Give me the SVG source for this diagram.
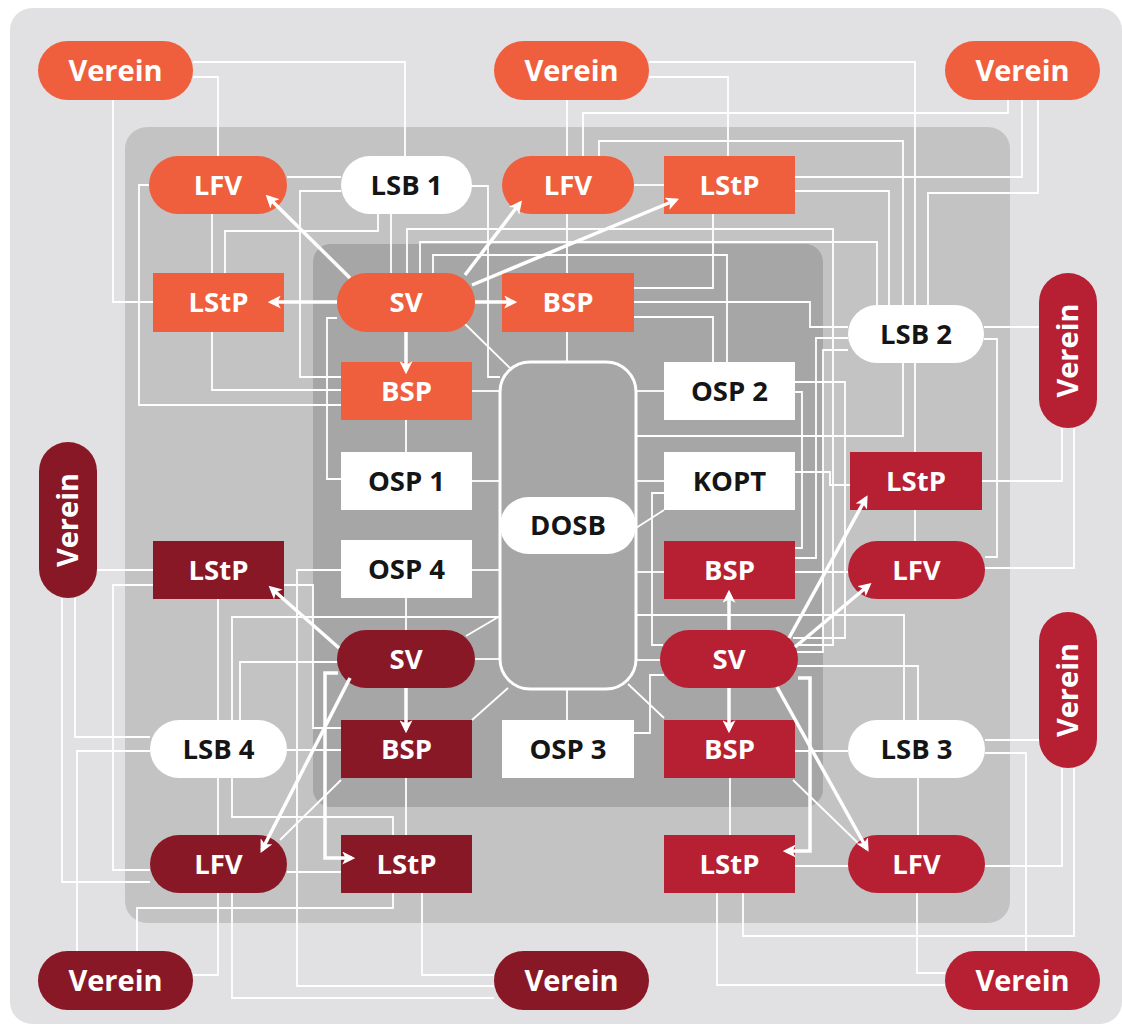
<svg xmlns="http://www.w3.org/2000/svg" width="1122" height="1028" viewBox="0 0 1122 1028">
<defs>
<style>
.ln{fill:none;stroke:#fff;stroke-width:1.8}
.ar{fill:none;stroke:#fff;stroke-width:3.5;marker-end:url(#ah)}
.or{fill:#ef5f3e}
.dr{fill:#891826}
.rd{fill:#b71f33}
.wh{fill:#fff}
.t{font-family:"Open Sans","DejaVu Sans",sans-serif;font-weight:700;font-size:27.5px;text-anchor:middle;fill:#fff}
.k{fill:#151515}
.v{font-size:29px}
</style>
<marker id="ah" viewBox="0 0 12 12" refX="9" refY="6" markerWidth="13" markerHeight="13" markerUnits="userSpaceOnUse" orient="auto">
<path d="M0,0 L12,6 L0,12 L3,6 z" fill="#fff"/>
</marker>
</defs>
<rect width="1122" height="1028" fill="#fff"/>
<rect x="10" y="8" width="1112" height="1016" rx="22" fill="#e1e1e3"/>
<rect x="125" y="127" width="885" height="796" rx="22" fill="#c3c3c3"/>
<rect x="313" y="244" width="510" height="563" rx="18" fill="#a6a6a6"/>

<g id="connectors">
<path class="ln" d="M193,62 H405 V156"/>
<path class="ln" d="M193,77 H218 V156"/>
<path class="ln" d="M113,100 V302 H153"/>
<path class="ln" d="M287,177 H341"/>
<path class="ln" d="M149,185 H139 V405 H341"/>
<path class="ln" d="M212,214 V273"/>
<path class="ln" d="M212,332 V390 H341"/>
<path class="ln" d="M341,191 H300 V377 H341"/>
<path class="ln" d="M378,214 V231 H225 V273"/>
<path class="ln" d="M391,214 V273"/>
<path class="ln" d="M471,186 H488 V377 H500"/>
<path class="ln" d="M337,318 H327 V479 H341"/>
<path class="ln" d="M465,324 L510,368"/>
<path class="ln" d="M407,273 V229 H833 V645 H797"/>
<path class="ln" d="M420,273 V242 H877 V305"/>
<path class="ln" d="M433,273 V255 H727 V362"/>
<path class="ln" d="M472,391 H500"/>
<path class="ln" d="M406,420 V452"/>
<path class="ln" d="M472,481 H500"/>
<path class="ln" d="M567,100 V156"/>
<path class="ln" d="M567,214 V273"/>
<path class="ln" d="M567,332 V362"/>
<path class="ln" d="M583,156 V113 H1008 V100"/>
<path class="ln" d="M599,156 V141 H903 V305"/>
<path class="ln" d="M634,185 H664"/>
<path class="ln" d="M649,77 H728 V156"/>
<path class="ln" d="M649,62 H915 V305"/>
<path class="ln" d="M795,177 H1022 V100"/>
<path class="ln" d="M795,191 H889 V305"/>
<path class="ln" d="M1038,100 V193 H928 V305"/>
<path class="ln" d="M713,214 V288 H634"/>
<path class="ln" d="M634,302 H810 V327 H848"/>
<path class="ln" d="M634,317 H713 V362"/>
<path class="ln" d="M984,327 H1039"/>
<path class="ln" d="M984,339 H997 V557 H985"/>
<path class="ln" d="M903,363 V436 H636"/>
<path class="ln" d="M915,363 V452"/>
<path class="ln" d="M915,510 V541"/>
<path class="ln" d="M1062,428 V481 H982"/>
<path class="ln" d="M1074,428 V568 H985"/>
<path class="ln" d="M848,338 H816 V558 H795"/>
<path class="ln" d="M848,350 H823 V652 H797"/>
<path class="ln" d="M795,382 H845 V638 H793"/>
<path class="ln" d="M795,392 H802 V548 H795"/>
<path class="ln" d="M795,472 H830 V485 H850"/>
<path class="ln" d="M795,572 H848"/>
<path class="ln" d="M636,391 H664"/>
<path class="ln" d="M636,481 H664"/>
<path class="ln" d="M636,572 H664"/>
<path class="ln" d="M636,660 H660"/>
<path class="ln" d="M636,528 L664,510"/>
<path class="ln" d="M664,493 H652 V645 H663"/>
<path class="ln" d="M636,615 H904 V720"/>
<path class="ln" d="M797,666 H918 V720"/>
<path class="ln" d="M664,675 H650 V733 H634"/>
<path class="ln" d="M567,689 V720"/>
<path class="ln" d="M628,684 L664,718"/>
<path class="ln" d="M795,751 H848"/>
<path class="ln" d="M793,780 L858,843"/>
<path class="ln" d="M730,778 V835"/>
<path class="ln" d="M795,866 H848"/>
<path class="ln" d="M918,778 V835"/>
<path class="ln" d="M985,740 H1039"/>
<path class="ln" d="M985,753 H1026 V951"/>
<path class="ln" d="M985,866 H1062 V768"/>
<path class="ln" d="M743,893 V936 H1074 V768"/>
<path class="ln" d="M717,893 V985 H945"/>
<path class="ln" d="M917,893 V973 H945"/>
<path class="ln" d="M97,570 H153"/>
<path class="ln" d="M62,598 V882 H150"/>
<path class="ln" d="M75,598 V737 H150"/>
<path class="ln" d="M150,751 H77 V951"/>
<path class="ln" d="M153,585 H113 V870 H150"/>
<path class="ln" d="M218,599 V720"/>
<path class="ln" d="M218,778 V835"/>
<path class="ln" d="M232,720 V617 H500"/>
<path class="ln" d="M232,778 V817 H393 V835"/>
<path class="ln" d="M337,662 H240 V720"/>
<path class="ln" d="M284,585 H313 V728 H341"/>
<path class="ln" d="M341,570 H297 V986 H494"/>
<path class="ln" d="M287,750 H341"/>
<path class="ln" d="M406,598 V630"/>
<path class="ln" d="M472,570 H500"/>
<path class="ln" d="M472,659 H500"/>
<path class="ln" d="M466,636 L500,616"/>
<path class="ln" d="M472,720 L508,688"/>
<path class="ln" d="M406,778 V835"/>
<path class="ln" d="M341,780 L280,840"/>
<path class="ln" d="M287,872 H341"/>
<path class="ln" d="M393,893 V908 H137 V951"/>
<path class="ln" d="M218,893 V975 H193"/>
<path class="ln" d="M232,893 V998 H494"/>
<path class="ln" d="M422,893 V975 H494"/>
</g>

<g id="DOSB-box"><rect x="500" y="362" width="136" height="327" rx="30" fill="#a6a6a6" stroke="#fff" stroke-width="3"/></g>

<g id="verein-tl"><rect class="or" x="38" y="41" width="155" height="59" rx="29.5"/><text class="t v" x="115.5" y="81">Verein</text></g>
<g id="verein-tm"><rect class="or" x="494" y="41" width="155" height="59" rx="29.5"/><text class="t v" x="571.5" y="81">Verein</text></g>
<g id="verein-tr"><rect class="or" x="945" y="41" width="155" height="59" rx="29.5"/><text class="t v" x="1022.5" y="81">Verein</text></g>
<g id="verein-l"><rect class="dr" x="39" y="442" width="58" height="156" rx="29"/><text class="t v" x="68" y="530" transform="rotate(-90 68 520)">Verein</text></g>
<g id="verein-ru"><rect class="rd" x="1039" y="273" width="58" height="155" rx="29"/><text class="t v" x="1068" y="360.5" transform="rotate(-90 1068 350.5)">Verein</text></g>
<g id="verein-rl"><rect class="rd" x="1039" y="612" width="58" height="156" rx="29"/><text class="t v" x="1068" y="700" transform="rotate(-90 1068 690)">Verein</text></g>
<g id="verein-bl"><rect class="dr" x="38" y="951" width="155" height="59" rx="29.5"/><text class="t v" x="115.5" y="991">Verein</text></g>
<g id="verein-bm"><rect class="dr" x="494" y="951" width="155" height="59" rx="29.5"/><text class="t v" x="571.5" y="991">Verein</text></g>
<g id="verein-br"><rect class="rd" x="945" y="951" width="155" height="59" rx="29.5"/><text class="t v" x="1022.5" y="991">Verein</text></g>

<g id="lfv-o1"><rect class="or" x="149" y="156" width="138" height="58" rx="29"/><text class="t" x="218" y="195">LFV</text></g>
<g id="lsb1"><rect class="wh" x="341" y="156" width="131" height="58" rx="29"/><text class="t k" x="406.5" y="195">LSB 1</text></g>
<g id="lfv-o2"><rect class="or" x="502" y="156" width="132" height="58" rx="29"/><text class="t" x="568" y="195">LFV</text></g>
<g id="lstp-o2"><rect class="or" x="664" y="156" width="131" height="58"/><text class="t" x="729.5" y="195">LStP</text></g>
<g id="lstp-o1"><rect class="or" x="153" y="273" width="131" height="59"/><text class="t" x="218.5" y="312">LStP</text></g>
<g id="sv-o"><rect class="or" x="337" y="273" width="138" height="59" rx="29.5"/><text class="t" x="406" y="312">SV</text></g>
<g id="bsp-o2"><rect class="or" x="502" y="273" width="132" height="59"/><text class="t" x="568" y="312">BSP</text></g>
<g id="bsp-o1"><rect class="or" x="341" y="362" width="131" height="58"/><text class="t" x="406.5" y="401">BSP</text></g>
<g id="osp1"><rect class="wh" x="341" y="452" width="131" height="58"/><text class="t k" x="406.5" y="491">OSP 1</text></g>
<g id="osp4"><rect class="wh" x="341" y="540" width="131" height="58"/><text class="t k" x="406.5" y="579">OSP 4</text></g>
<g id="lstp-d1"><rect class="dr" x="153" y="541" width="131" height="58"/><text class="t" x="218.5" y="580">LStP</text></g>
<g id="sv-d"><rect class="dr" x="337" y="630" width="138" height="58" rx="29"/><text class="t" x="406" y="669">SV</text></g>
<g id="lsb4"><rect class="wh" x="150" y="720" width="137" height="58" rx="29"/><text class="t k" x="218.5" y="759">LSB 4</text></g>
<g id="bsp-d"><rect class="dr" x="341" y="720" width="131" height="58"/><text class="t" x="406.5" y="759">BSP</text></g>
<g id="lfv-d"><rect class="dr" x="150" y="835" width="137" height="58" rx="29"/><text class="t" x="218.5" y="874">LFV</text></g>
<g id="lstp-d2"><rect class="dr" x="341" y="835" width="131" height="58"/><text class="t" x="406.5" y="874">LStP</text></g>
<g id="dosb"><rect class="wh" x="500" y="497" width="136" height="57" rx="28.5"/><text class="t k" x="568" y="535">DOSB</text></g>
<g id="osp3"><rect class="wh" x="502" y="720" width="132" height="58"/><text class="t k" x="568" y="759">OSP 3</text></g>
<g id="osp2"><rect class="wh" x="664" y="362" width="131" height="58"/><text class="t k" x="729.5" y="401">OSP 2</text></g>
<g id="kopt"><rect class="wh" x="664" y="452" width="131" height="58"/><text class="t k" x="729.5" y="491">KOPT</text></g>
<g id="bsp-r1"><rect class="rd" x="664" y="541" width="131" height="58"/><text class="t" x="729.5" y="580">BSP</text></g>
<g id="sv-r"><rect class="rd" x="660" y="630" width="138" height="58" rx="29"/><text class="t" x="729" y="669">SV</text></g>
<g id="bsp-r2"><rect class="rd" x="664" y="720" width="131" height="58"/><text class="t" x="729.5" y="759">BSP</text></g>
<g id="lstp-r2"><rect class="rd" x="664" y="835" width="131" height="58"/><text class="t" x="729.5" y="874">LStP</text></g>
<g id="lsb2"><rect class="wh" x="848" y="305" width="136" height="58" rx="29"/><text class="t k" x="916" y="344">LSB 2</text></g>
<g id="lstp-r1"><rect class="rd" x="850" y="452" width="132" height="58"/><text class="t" x="916" y="491">LStP</text></g>
<g id="lfv-r1"><rect class="rd" x="848" y="541" width="137" height="58" rx="29"/><text class="t" x="916.5" y="580">LFV</text></g>
<g id="lsb3"><rect class="wh" x="848" y="720" width="137" height="58" rx="29"/><text class="t k" x="916.5" y="759">LSB 3</text></g>
<g id="lfv-r2"><rect class="rd" x="848" y="835" width="137" height="58" rx="29"/><text class="t" x="916.5" y="874">LFV</text></g>

<g id="arrows">
<path class="ar" d="M350,278 L268,197"/>
<path class="ar" d="M337,302 L271,302"/>
<path class="ar" d="M475,302 L514,302"/>
<path class="ar" d="M406,332 L406,371"/>
<path class="ar" d="M465,275 L520,203"/>
<path class="ar" d="M472,285 L676,200"/>
<path class="ar" d="M339,648 L271,588"/>
<path class="ar" d="M406,688 L406,730"/>
<path class="ar" d="M350,678 L262,850"/>
<path class="ar" d="M338,673 H325 V858 H352"/>
<path class="ar" d="M729,630 L729,593"/>
<path class="ar" d="M729,688 L729,730"/>
<path class="ar" d="M789,638 L866,498"/>
<path class="ar" d="M795,647 L869,585"/>
<path class="ar" d="M777,687 L867,849"/>
<path class="ar" d="M798,678 H810 V851 H786"/>
</g>
</svg>
